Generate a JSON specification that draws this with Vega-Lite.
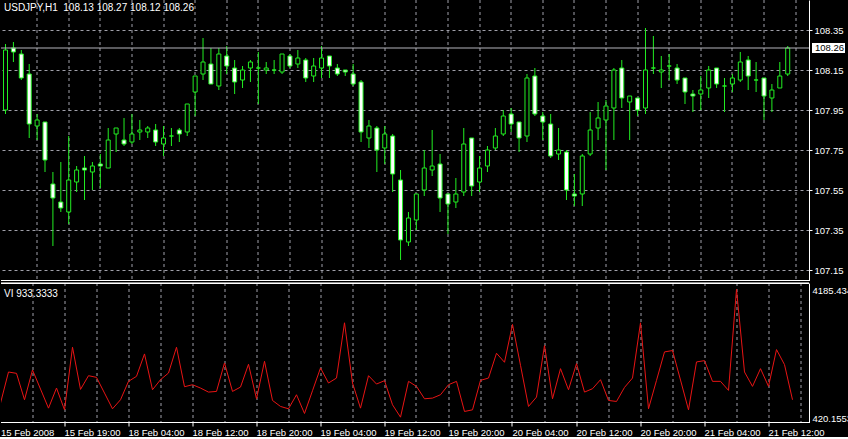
{
  "$schema": "https://vega.github.io/schema/vega-lite/v6.json",
  "padding": 0,
  "spacing": 1,
  "background": "black",
  "datasets": {
    "candles": [
      {"i":0,"o":107.95,"h":108.28,"l":107.93,"c":108.25},
      {"i":1,"o":108.26,"h":108.29,"l":108.19,"c":108.24},
      {"i":2,"o":108.23,"h":108.25,"l":108.10,"c":108.11},
      {"i":3,"o":108.13,"h":108.18,"l":107.81,"c":107.88},
      {"i":4,"o":107.87,"h":107.93,"l":107.80,"c":107.90},
      {"i":5,"o":107.89,"h":107.89,"l":107.64,"c":107.70},
      {"i":6,"o":107.58,"h":107.64,"l":107.27,"c":107.51},
      {"i":7,"o":107.49,"h":107.69,"l":107.44,"c":107.46},
      {"i":8,"o":107.44,"h":107.82,"l":107.38,"c":107.60},
      {"i":9,"o":107.59,"h":107.67,"l":107.54,"c":107.65},
      {"i":10,"o":107.66,"h":107.72,"l":107.50,"c":107.65},
      {"i":11,"o":107.64,"h":107.69,"l":107.55,"c":107.67},
      {"i":12,"o":107.68,"h":107.73,"l":107.56,"c":107.67},
      {"i":13,"o":107.66,"h":107.86,"l":107.66,"c":107.80},
      {"i":14,"o":107.83,"h":107.86,"l":107.74,"c":107.86},
      {"i":15,"o":107.80,"h":107.91,"l":107.77,"c":107.78},
      {"i":16,"o":107.79,"h":107.93,"l":107.78,"c":107.83},
      {"i":17,"o":107.84,"h":107.90,"l":107.80,"c":107.85},
      {"i":18,"o":107.84,"h":107.87,"l":107.81,"c":107.86},
      {"i":19,"o":107.85,"h":107.88,"l":107.77,"c":107.79},
      {"i":20,"o":107.78,"h":107.87,"l":107.72,"c":107.81},
      {"i":21,"o":107.82,"h":107.86,"l":107.77,"c":107.82},
      {"i":22,"o":107.85,"h":107.86,"l":107.79,"c":107.83},
      {"i":23,"o":107.84,"h":107.98,"l":107.82,"c":107.98},
      {"i":24,"o":108.04,"h":108.12,"l":107.92,"c":108.12},
      {"i":25,"o":108.13,"h":108.31,"l":108.10,"c":108.19},
      {"i":26,"o":108.18,"h":108.26,"l":108.08,"c":108.08},
      {"i":27,"o":108.07,"h":108.26,"l":108.05,"c":108.23},
      {"i":28,"o":108.22,"h":108.27,"l":108.13,"c":108.17},
      {"i":29,"o":108.16,"h":108.20,"l":108.03,"c":108.09},
      {"i":30,"o":108.10,"h":108.17,"l":108.06,"c":108.15},
      {"i":31,"o":108.16,"h":108.20,"l":108.09,"c":108.19},
      {"i":32,"o":108.16,"h":108.24,"l":107.98,"c":108.16},
      {"i":33,"o":108.15,"h":108.19,"l":108.13,"c":108.16},
      {"i":34,"o":108.15,"h":108.20,"l":108.13,"c":108.15},
      {"i":35,"o":108.14,"h":108.23,"l":108.13,"c":108.23},
      {"i":36,"o":108.22,"h":108.23,"l":108.16,"c":108.17},
      {"i":37,"o":108.18,"h":108.25,"l":108.16,"c":108.21},
      {"i":38,"o":108.20,"h":108.21,"l":108.09,"c":108.11},
      {"i":39,"o":108.12,"h":108.21,"l":108.09,"c":108.17},
      {"i":40,"o":108.16,"h":108.27,"l":108.11,"c":108.21},
      {"i":41,"o":108.22,"h":108.22,"l":108.11,"c":108.17},
      {"i":42,"o":108.16,"h":108.18,"l":108.12,"c":108.13},
      {"i":43,"o":108.15,"h":108.15,"l":108.12,"c":108.14},
      {"i":44,"o":108.13,"h":108.18,"l":108.07,"c":108.08},
      {"i":45,"o":108.09,"h":108.10,"l":107.79,"c":107.84},
      {"i":46,"o":107.81,"h":107.90,"l":107.76,"c":107.87},
      {"i":47,"o":107.86,"h":107.87,"l":107.64,"c":107.75},
      {"i":48,"o":107.76,"h":107.87,"l":107.68,"c":107.83},
      {"i":49,"o":107.82,"h":107.83,"l":107.54,"c":107.63},
      {"i":50,"o":107.60,"h":107.65,"l":107.20,"c":107.30},
      {"i":51,"o":107.29,"h":107.44,"l":107.27,"c":107.41},
      {"i":52,"o":107.40,"h":107.53,"l":107.35,"c":107.53},
      {"i":53,"o":107.55,"h":107.75,"l":107.52,"c":107.66},
      {"i":54,"o":107.65,"h":107.85,"l":107.62,"c":107.67},
      {"i":55,"o":107.68,"h":107.73,"l":107.44,"c":107.51},
      {"i":56,"o":107.53,"h":107.53,"l":107.33,"c":107.48},
      {"i":57,"o":107.49,"h":107.61,"l":107.46,"c":107.53},
      {"i":58,"o":107.54,"h":107.86,"l":107.52,"c":107.78},
      {"i":59,"o":107.81,"h":107.81,"l":107.52,"c":107.57},
      {"i":60,"o":107.59,"h":107.72,"l":107.54,"c":107.66},
      {"i":61,"o":107.67,"h":107.77,"l":107.64,"c":107.75},
      {"i":62,"o":107.76,"h":107.86,"l":107.75,"c":107.82},
      {"i":63,"o":107.83,"h":107.95,"l":107.82,"c":107.92},
      {"i":64,"o":107.93,"h":107.96,"l":107.84,"c":107.88},
      {"i":65,"o":107.89,"h":107.89,"l":107.74,"c":107.81},
      {"i":66,"o":107.82,"h":108.13,"l":107.79,"c":108.11},
      {"i":67,"o":108.12,"h":108.16,"l":107.92,"c":107.93},
      {"i":68,"o":107.92,"h":107.94,"l":107.80,"c":107.89},
      {"i":69,"o":107.88,"h":107.93,"l":107.71,"c":107.72},
      {"i":70,"o":107.73,"h":107.86,"l":107.70,"c":107.75},
      {"i":71,"o":107.74,"h":107.75,"l":107.50,"c":107.55},
      {"i":72,"o":107.53,"h":107.63,"l":107.47,"c":107.52},
      {"i":73,"o":107.53,"h":107.73,"l":107.47,"c":107.72},
      {"i":74,"o":107.73,"h":107.94,"l":107.72,"c":107.85},
      {"i":75,"o":107.86,"h":107.99,"l":107.80,"c":107.91},
      {"i":76,"o":107.90,"h":108.00,"l":107.65,"c":107.97},
      {"i":77,"o":107.96,"h":108.16,"l":107.80,"c":108.15},
      {"i":78,"o":108.16,"h":108.20,"l":107.96,"c":108.01},
      {"i":79,"o":107.99,"h":108.02,"l":107.80,"c":108.02},
      {"i":80,"o":108.01,"h":108.01,"l":107.92,"c":107.95},
      {"i":81,"o":107.96,"h":108.36,"l":107.93,"c":108.15},
      {"i":82,"o":108.16,"h":108.32,"l":108.13,"c":108.16},
      {"i":83,"o":108.14,"h":108.22,"l":108.06,"c":108.15},
      {"i":84,"o":108.17,"h":108.23,"l":108.10,"c":108.17},
      {"i":85,"o":108.16,"h":108.18,"l":108.08,"c":108.10},
      {"i":86,"o":108.11,"h":108.11,"l":107.98,"c":108.04},
      {"i":87,"o":108.03,"h":108.05,"l":107.94,"c":108.02},
      {"i":88,"o":108.03,"h":108.12,"l":107.95,"c":108.05},
      {"i":89,"o":108.06,"h":108.17,"l":108.01,"c":108.15},
      {"i":90,"o":108.16,"h":108.16,"l":108.06,"c":108.08},
      {"i":91,"o":108.07,"h":108.11,"l":107.94,"c":108.07},
      {"i":92,"o":108.08,"h":108.13,"l":108.04,"c":108.11},
      {"i":93,"o":108.10,"h":108.24,"l":108.09,"c":108.19},
      {"i":94,"o":108.20,"h":108.22,"l":108.05,"c":108.12},
      {"i":95,"o":108.10,"h":108.19,"l":108.04,"c":108.10},
      {"i":96,"o":108.11,"h":108.11,"l":107.90,"c":108.02},
      {"i":97,"o":108.01,"h":108.08,"l":107.94,"c":108.05},
      {"i":98,"o":108.06,"h":108.19,"l":108.06,"c":108.12},
      {"i":99,"o":108.13,"h":108.27,"l":108.12,"c":108.26}
    ],
    "vi": [
      {"i":0,"v":834},{"i":1,"v":1751},{"i":2,"v":1711},{"i":3,"v":933},{"i":4,"v":1810},
      {"i":5,"v":1248},{"i":6,"v":686},{"i":7,"v":1278},{"i":8,"v":637},{"i":9,"v":2480},
      {"i":10,"v":1238},{"i":11,"v":1642},{"i":12,"v":1593},{"i":13,"v":1130},{"i":14,"v":667},
      {"i":15,"v":933},{"i":16,"v":1475},{"i":17,"v":1623},{"i":18,"v":2283},{"i":19,"v":1228},
      {"i":20,"v":1524},{"i":21,"v":1721},{"i":22,"v":2480},{"i":23,"v":1317},{"i":24,"v":1376},
      {"i":25,"v":1278},{"i":26,"v":1159},{"i":27,"v":1179},{"i":28,"v":2017},{"i":29,"v":1179},
      {"i":30,"v":1307},{"i":31,"v":1978},{"i":32,"v":962},{"i":33,"v":2066},{"i":34,"v":913},
      {"i":35,"v":736},{"i":36,"v":667},{"i":37,"v":1081},{"i":38,"v":529},{"i":39,"v":1199},
      {"i":40,"v":1869},{"i":41,"v":1426},{"i":42,"v":1573},{"i":43,"v":3200},{"i":44,"v":1426},
      {"i":45,"v":686},{"i":46,"v":1642},{"i":47,"v":1396},{"i":48,"v":1495},{"i":49,"v":785},
      {"i":50,"v":420.1553},{"i":51,"v":1475},{"i":52,"v":1327},{"i":53,"v":962},{"i":54,"v":982},
      {"i":55,"v":1081},{"i":56,"v":1376},{"i":57,"v":1475},{"i":58,"v":588},{"i":59,"v":637},
      {"i":60,"v":1504},{"i":61,"v":1573},{"i":62,"v":2303},{"i":63,"v":2037},{"i":64,"v":3151},
      {"i":65,"v":1948},{"i":66,"v":736},{"i":67,"v":1012},{"i":68,"v":2530},{"i":69,"v":962},
      {"i":70,"v":1849},{"i":71,"v":1228},{"i":72,"v":1997},{"i":73,"v":1159},{"i":74,"v":1258},
      {"i":75,"v":1524},{"i":76,"v":913},{"i":77,"v":883},{"i":78,"v":1297},{"i":79,"v":1573},
      {"i":80,"v":3200},{"i":81,"v":667},{"i":82,"v":1504},{"i":83,"v":2342},{"i":84,"v":2382},
      {"i":85,"v":1514},{"i":86,"v":637},{"i":87,"v":2047},{"i":88,"v":2086},{"i":89,"v":1475},
      {"i":90,"v":1475},{"i":91,"v":1209},{"i":92,"v":4185.434},{"i":93,"v":1751},{"i":94,"v":1327},
      {"i":95,"v":1849},{"i":96,"v":1327},{"i":97,"v":2411},{"i":98,"v":1968},{"i":99,"v":933.3333}
    ]
  },
  "vconcat": [
    {
      "width": 808,
      "height": 280.5,
      "title": {"text": "USDJPY,H1\u00a0 108.13 108.27 108.12 108.26", "anchor": "start", "frame": "group", "orient": "top", "offset": -21, "baseline": "alphabetic", "dx": 3, "fontSize": 10},
      "data": {"name": "candles"},
      "resolve": {"axis": {"x": "independent", "y": "independent"}},
      "layer": [
        {
          "mark": {"type": "rule", "color": "#22ee22", "strokeWidth": 1, "clip": true},
          "encoding": {
            "x": {"field": "i", "type": "quantitative",
                  "scale": {"domain": [0.0625, 101.0625], "nice": false, "zero": false},
                  "axis": {"orient": "bottom", "values": [4,8,12,16,20,24,28,32,36,40,44,48,52,56,60,64,68,72,76,80,84,88,92,96,100],
                           "labels": false, "ticks": false, "grid": true, "domain": true, "translate": 0, "title": null}},
            "y": {"field": "l", "type": "quantitative",
                  "scale": {"domain": [107.0975, 108.5], "nice": false, "zero": false},
                  "axis": {"orient": "right", "values": [107.15,107.35,107.55,107.75,107.95,108.15,108.35],
                           "format": ".2f", "tickSize": 3, "labelPadding": 2, "grid": true, "domain": true, "title": null}},
            "y2": {"field": "h"}
          }
        },
        {
          "mark": {"type": "bar", "width": 4, "stroke": "#22ee22", "strokeWidth": 1, "clip": true},
          "encoding": {
            "x": {"field": "i", "type": "quantitative", "scale": {"domain": [0.0625, 101.0625], "nice": false, "zero": false}, "axis": null},
            "y": {"field": "o", "type": "quantitative", "scale": {"domain": [107.0975, 108.5], "nice": false, "zero": false}, "axis": null},
            "y2": {"field": "c"},
            "fill": {"condition": {"test": "datum.c < datum.o", "value": "white"}, "value": "black"}
          }
        },
        {
          "transform": [{"filter": "datum.i == 99"}],
          "mark": {"type": "rule", "color": "#b4b4bc", "strokeWidth": 1},
          "encoding": {
            "y": {"field": "c", "type": "quantitative",
                  "scale": {"domain": [107.0975, 108.5], "nice": false, "zero": false},
                  "axis": {"orient": "right", "values": [108.26], "format": ".2f", "offset": 3, "translate": 0,
                           "domain": false, "grid": false, "tickSize": 33, "tickWidth": 10, "tickColor": "white",
                           "labelColor": "black", "labelPadding": -30, "title": null}}
          }
        }
      ]
    },
    {
      "width": 808,
      "height": 139.5,
      "title": {"text": "VI 933.3333", "anchor": "start", "frame": "group", "orient": "top", "offset": -24, "baseline": "alphabetic", "dx": 3, "fontSize": 10},
      "data": {"name": "vi"},
      "resolve": {"axis": {"x": "independent", "y": "independent"}},
      "layer": [
        {
          "mark": {"type": "line", "color": "#e81414", "strokeWidth": 1, "clip": true},
          "encoding": {
            "x": {"field": "i", "type": "quantitative",
                  "scale": {"domain": [0.0625, 101.0625], "nice": false, "zero": false},
                  "axis": {"orient": "bottom", "translate": 0, "title": null,
                           "values": [0.0625,4,8,12,16,20,24,28,32,36,40,44,48,52,56,60,64,68,72,76,80,84,88,92,96,100],
                           "labelExpr": "datum.value < 1 ? '15 Feb 2008' : (datum.value % 8 === 0 && datum.value <= 96 ? ['15 Feb 19:00','18 Feb 04:00','18 Feb 12:00','18 Feb 20:00','19 Feb 04:00','19 Feb 12:00','19 Feb 20:00','20 Feb 04:00','20 Feb 12:00','20 Feb 20:00','21 Feb 04:00','21 Feb 12:00'][datum.value / 8 - 1] : '')",
                           "labelAlign": "left", "labelBaseline": "top", "labelPadding": 1, "labelOverlap": false, "labelBound": false, "labelFlush": false,
                           "tickSize": 4,
                           "tickOpacity": {"condition": {"test": "datum.value % 8 === 0 && datum.value <= 96", "value": 1}, "value": 0},
                           "grid": true,
                           "gridOpacity": {"condition": {"test": "datum.value < 1", "value": 0}, "value": 1},
                           "domain": true}},
            "y": {"field": "v", "type": "quantitative",
                  "scale": {"domain": [263.4, 4371.7], "nice": false, "zero": false},
                  "axis": {"orient": "right", "values": [420.1553, 4185.434], "format": ".7r", "ticks": false,
                           "labelPadding": 3, "labelOffset": 1.5, "grid": false, "domain": true, "title": null}}
          }
        },
        {
          "mark": {"type": "rule", "color": "white", "strokeWidth": 1},
          "encoding": {
            "y": {"datum": 4357, "type": "quantitative", "scale": {"domain": [263.4, 4371.7], "nice": false, "zero": false}, "axis": null}
          }
        }
      ]
    }
  ],
  "config": {
    "view": {"stroke": null},
    "axis": {"labelFont": "Liberation Sans", "labelFontSize": 9.5, "labelColor": "white",
             "domainColor": "white", "tickColor": "white", "gridColor": "#a0a0aa", "gridDash": [3, 3], "gridWidth": 1},
    "title": {"font": "Liberation Sans", "fontSize": 9.5, "fontWeight": "normal", "color": "white"}
  }
}
